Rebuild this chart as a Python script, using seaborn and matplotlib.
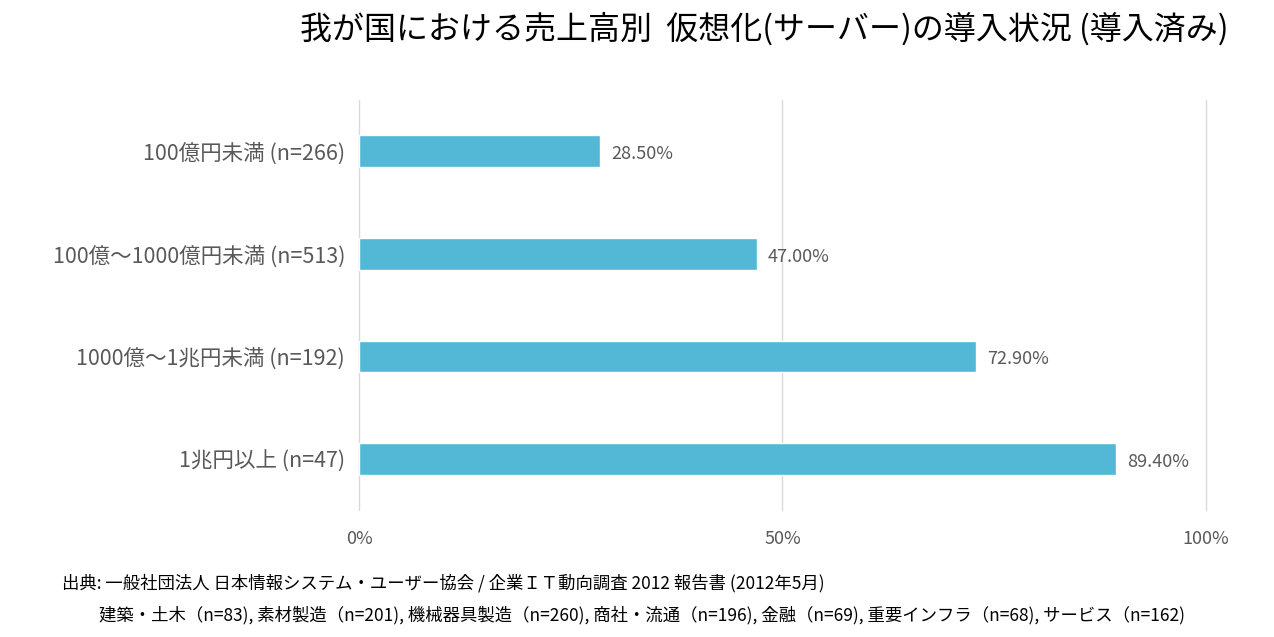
import matplotlib
matplotlib.use("Agg")
import matplotlib.pyplot as plt
import seaborn as sns
import pandas as pd

categories = ["100億円未満 (n=266)", "100億～1000億円未満 (n=513)", "1000億～1兆円未満 (n=192)", "1兆円以上 (n=47)"]
values = [28.5, 47.0, 72.9, 89.4]
xticks = [0, 50, 100]
xtick_labels = ["0%", "50%", "100%"]

sns.set_theme(style="white")
plt.rcParams['font.family'] = ['Noto Sans CJK JP', 'DejaVu Sans']

df = pd.DataFrame({"cat": categories, "val": values})

fig = plt.figure(figsize=(12.74, 6.37), dpi=100)
ax = fig.add_axes([0.2818, 0.199, 0.6648, 0.644])
sns.barplot(data=df, x="val", y="cat", color="#52B8D6", width=0.31, saturation=1, ax=ax)

gray = "#595959"
for i, v in enumerate(values):
    ax.text(v + 1.3, i + 0.03, f"{v:.2f}%", va="center", ha="left", fontsize=13, color=gray)

ax.set_xlim(0, 100)
ax.set_ylim(3.5, -0.5)
ax.set_xticks(xticks)
ax.set_xticklabels(xtick_labels, fontsize=13, color=gray)
ax.tick_params(axis="y", labelsize=15.5, colors=gray, length=0, pad=10)
ax.tick_params(axis="x", length=0, pad=14)
ax.set_xlabel("")
ax.set_ylabel("")
for x in xticks:
    ax.axvline(x, color="#D9D9D9", lw=1, zorder=0, clip_on=False)
for s in ax.spines.values():
    s.set_visible(False)

fig.text(0.6, 0.955, "我が国における売上高別  仮想化(サーバー)の導入状況 (導入済み)",
         ha="center", va="center", fontsize=23, color="black")
fig.text(0.049, 0.085, "出典: 一般社団法人 日本情報システム・ユーザー協会 / 企業ＩＴ動向調査 2012 報告書 (2012年5月)",
         ha="left", va="center", fontsize=12.5, color="black")
fig.text(0.078, 0.035, "建築・土木（n=83), 素材製造（n=201), 機械器具製造（n=260), 商社・流通（n=196), 金融（n=69), 重要インフラ（n=68), サービス（n=162)",
         ha="left", va="center", fontsize=12.5, color="black")

fig.savefig("out.png", dpi=100)
